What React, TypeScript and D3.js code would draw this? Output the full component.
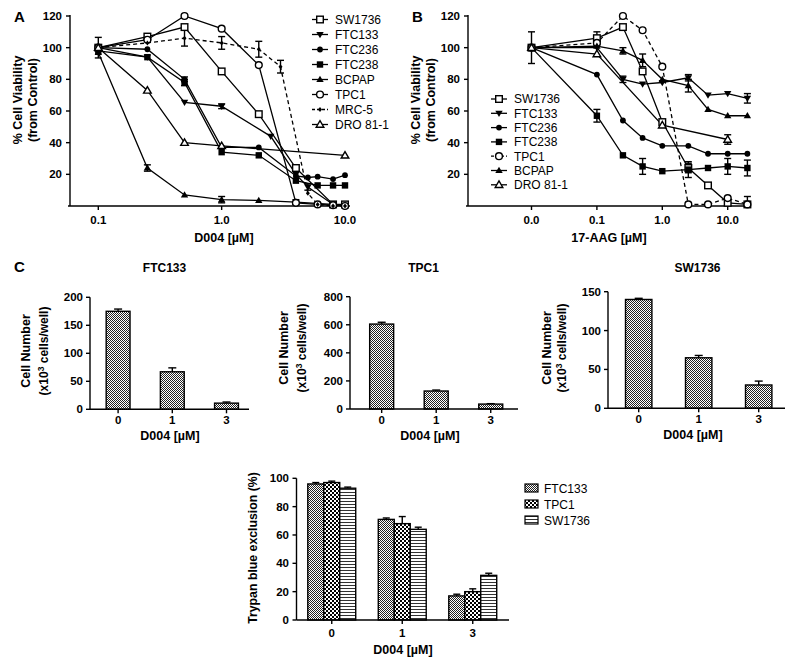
import * as d3 from 'd3'

type Pt = [number, number, number?]

const FONT = '"Liberation Sans", Arial, sans-serif'

// ---- Panel A: D004 dose response, [dose µM, % viability, sem]
const A_SW1736: Pt[] = [[0.1, 100, 6.5], [0.25, 107], [0.5, 113], [1, 85], [2, 58], [4, 24], [8, 1], [10, 1]]
const A_FTC133: Pt[] = [[0.1, 100], [0.25, 94], [0.5, 65.5], [1, 63, 1.5], [2.5, 44], [4, 20], [5, 12, 2], [8, 1], [10, 0]]
const A_FTC236: Pt[] = [[0.1, 100], [0.25, 99], [0.5, 80, 1.5], [1, 37], [2, 37], [4, 19], [5, 18], [6, 18.5], [8, 17], [10, 19.5]]
const A_FTC238: Pt[] = [[0.1, 98], [0.25, 94], [0.5, 78, 2], [1, 34], [2, 32], [4, 16], [6, 13], [8, 13], [10, 13]]
const A_BCPAP: Pt[] = [[0.1, 97], [0.25, 24, 2], [0.5, 7], [1, 4, 2], [2, 3.5], [4, 2.5, 1.5], [10, 0.5]]
const A_TPC1: Pt[] = [[0.1, 100], [0.25, 105], [0.5, 120], [1, 112], [2, 89], [4, 2], [6, 1], [8, 0.5], [10, 0]]
const A_MRC5: Pt[] = [[0.1, 100], [0.25, 103], [0.5, 106, 5], [1, 103, 4], [2, 99, 5], [3, 88, 4], [5, 8], [6, 1], [8, 0], [10, 0]]
const A_DRO: Pt[] = [[0.1, 100], [0.25, 73], [0.5, 40], [1, 38], [10, 32]]

// ---- Panel B: 17-AAG dose response (0.0 drawn at 0.01)
const B_SW1736: Pt[] = [[0.01, 100, 10], [0.1, 106, 4], [0.25, 113], [0.5, 85], [1, 53], [2.5, 24, 3], [5, 13], [10, 2], [20, 1]]
const B_FTC133: Pt[] = [[0.01, 100], [0.1, 100], [0.25, 80, 2], [0.5, 77], [1, 78], [2.5, 81, 2], [5, 70], [10, 71], [20, 68, 3]]
const B_FTC236: Pt[] = [[0.01, 100], [0.1, 83], [0.25, 54], [0.5, 43], [1, 38], [2.5, 38], [5, 33], [10, 33], [20, 33]]
const B_FTC238: Pt[] = [[0.01, 100], [0.1, 57, 4], [0.25, 32], [0.5, 25, 5], [1, 22], [2.5, 23, 5], [5, 24], [10, 25, 5], [20, 24, 5]]
const B_TPC1: Pt[] = [[0.01, 100], [0.1, 103], [0.25, 120], [0.5, 111], [1, 88], [2.5, 1], [5, 1], [10, 5], [20, 1, 5]]
const B_BCPAP: Pt[] = [[0.01, 100], [0.1, 101], [0.25, 98, 2], [0.5, 92, 4], [1, 80], [2.5, 76, 4], [5, 61], [10, 57], [20, 57]]
const B_DRO: Pt[] = [[0.01, 100], [0.1, 96], [1, 51], [10, 42, 3]]

const VIAB_TICKS = [20, 40, 60, 80, 100, 120]
const A_XTICKS = [0.1, 1, 10]
const A_XLABELS = ['0.1', '1.0', '10.0']
const B_XTICKS = [0.01, 0.1, 1, 10]
const B_XLABELS = ['0.0', '0.1', '1.0', '10.0']

// ---- Panel C: cell counts (x10^3 cells/well)
const C_DOSES = ['0', '1', '3']
const C_FTC133 = [175, 67, 11]
const C_FTC133_ERR = [4, 7, 2]
const C_TPC1 = [605, 128, 35]
const C_TPC1_ERR = [13, 7, 3]
const C_SW1736 = [140, 65, 30]
const C_SW1736_ERR = [1.5, 3, 5]

// ---- Panel D: trypan blue exclusion (%)
const D_LINES = ['FTC133', 'TPC1', 'SW1736']
const D_FTC133 = [96, 71, 17]
const D_TPC1 = [97, 68, 20]
const D_SW1736 = [93, 64, 31.5]
const D_ERR = [[1, 1, 1.2], [1, 5, 2], [0.8, 1.5, 1.5]]

type Series = { name: string; marker: string; dash: boolean; pts: Pt[] }

const A_SERIES: Series[] = [
  { name: 'SW1736', marker: 'sqOpen', dash: false, pts: A_SW1736 },
  { name: 'FTC133', marker: 'triDown', dash: false, pts: A_FTC133 },
  { name: 'FTC236', marker: 'circFill', dash: false, pts: A_FTC236 },
  { name: 'FTC238', marker: 'sqFill', dash: false, pts: A_FTC238 },
  { name: 'BCPAP', marker: 'triUp', dash: false, pts: A_BCPAP },
  { name: 'TPC1', marker: 'circOpen', dash: false, pts: A_TPC1 },
  { name: 'MRC-5', marker: 'dot', dash: true, pts: A_MRC5 },
  { name: 'DRO 81-1', marker: 'triOpen', dash: false, pts: A_DRO },
]

const B_SERIES: Series[] = [
  { name: 'SW1736', marker: 'sqOpen', dash: false, pts: B_SW1736 },
  { name: 'FTC133', marker: 'triDown', dash: false, pts: B_FTC133 },
  { name: 'FTC236', marker: 'circFill', dash: false, pts: B_FTC236 },
  { name: 'FTC238', marker: 'sqFill', dash: false, pts: B_FTC238 },
  { name: 'TPC1', marker: 'circOpen', dash: true, pts: B_TPC1 },
  { name: 'BCPAP', marker: 'triUp', dash: false, pts: B_BCPAP },
  { name: 'DRO 81-1', marker: 'triOpen', dash: false, pts: B_DRO },
]

function Marker({ kind, x, y }: { kind: string; x: number; y: number }) {
  const sw = 1.4
  switch (kind) {
    case 'sqOpen':
      return <rect x={x - 3.3} y={y - 3.3} width={6.6} height={6.6} fill="#fff" stroke="#000" strokeWidth={sw} />
    case 'sqFill':
      return <rect x={x - 3.2} y={y - 3.2} width={6.4} height={6.4} fill="#000" />
    case 'circOpen':
      return <circle cx={x} cy={y} r={3.4} fill="#fff" stroke="#000" strokeWidth={sw} />
    case 'circFill':
      return <circle cx={x} cy={y} r={2.9} fill="#000" />
    case 'triDown':
      return <path d={`M${x - 3.7},${y - 2.6}L${x + 3.7},${y - 2.6}L${x},${y + 3.7}Z`} fill="#000" />
    case 'triUp':
      return <path d={`M${x - 3.7},${y + 2.6}L${x + 3.7},${y + 2.6}L${x},${y - 3.7}Z`} fill="#000" />
    case 'triOpen':
      return <path d={`M${x - 3.8},${y + 2.7}L${x + 3.8},${y + 2.7}L${x},${y - 3.8}Z`} fill="#fff" stroke="#000" strokeWidth={sw} />
    default:
      return <path d={`M${x},${y - 2.5}L${x + 2},${y}L${x},${y + 2.5}L${x - 2},${y}Z`} fill="#000" />
  }
}

function ErrBar({ x, y0, y1, both = true, cap = 3.5 }: { x: number; y0: number; y1: number; both?: boolean; cap?: number }) {
  return (
    <g stroke="#000" strokeWidth={1.4}>
      <line x1={x} x2={x} y1={y0} y2={y1} />
      <line x1={x - cap} x2={x + cap} y1={y1} y2={y1} />
      {both && <line x1={x - cap} x2={x + cap} y1={y0} y2={y0} />}
    </g>
  )
}

type LineProps = {
  series: Series[]
  x: d3.ScaleLogarithmic<number, number>
  y: d3.ScaleLinear<number, number>
  axisX: number
  axisEnd: number
  xticks: number[]
  xlabels: string[]
  xtitle: string
  letter: string
  letterX: number
  titleX: number
  yTitleX: number
  legX: number
  legY: number
  legStep: number
}

function LinePanel(p: LineProps) {
  const { x, y } = p
  const base = y(0)
  const line = d3.line<Pt>().x(d => x(d[0])).y(d => y(d[1]))
  return (
    <g fontFamily={FONT}>
      <text x={p.letterX} y={22} fontSize={15} fontWeight="bold">{p.letter}</text>
      {/* axes */}
      <line x1={p.axisX} x2={p.axisX} y1={y(120) - 1} y2={base} stroke="#000" strokeWidth={1.4} />
      <line x1={p.axisX - 2} x2={p.axisEnd} y1={base} y2={base} stroke="#000" strokeWidth={1.4} />
      {VIAB_TICKS.map(t => (
        <g key={t}>
          <line x1={p.axisX - 4} x2={p.axisX} y1={y(t)} y2={y(t)} stroke="#000" strokeWidth={1.4} />
          <text x={p.axisX - 8} y={y(t) + 4} fontSize={11.5} fontWeight="bold" textAnchor="end">{t}</text>
        </g>
      ))}
      {p.xticks.map((t, i) => (
        <g key={t}>
          <line x1={x(t)} x2={x(t)} y1={base} y2={base + 4} stroke="#000" strokeWidth={1.4} />
          <text x={x(t)} y={base + 18} fontSize={11.5} fontWeight="bold" textAnchor="middle">{p.xlabels[i]}</text>
        </g>
      ))}
      <text x={p.titleX} y={242} fontSize={12.5} fontWeight="bold" textAnchor="middle">{p.xtitle}</text>
      <text transform={`translate(${p.yTitleX},100) rotate(-90)`} fontSize={12.5} fontWeight="bold" textAnchor="middle">% Cell Viability</text>
      <text transform={`translate(${p.yTitleX + 15},100) rotate(-90)`} fontSize={12.5} fontWeight="bold" textAnchor="middle">(from Control)</text>
      {/* series */}
      {p.series.map(s => (
        <path key={s.name} d={line(s.pts) ?? ''} fill="none" stroke="#000" strokeWidth={1.3}
          strokeDasharray={s.dash ? '4,3' : undefined} />
      ))}
      {p.series.map(s => s.pts.filter(d => d[2]).map((d, i) => (
        <ErrBar key={s.name + i} x={x(d[0])} y0={Math.min(base, y(d[1] - (d[2] as number)))} y1={y(d[1] + (d[2] as number))} />
      )))}
      {p.series.map(s => s.pts.map((d, i) => (
        <Marker key={s.name + 'm' + i} kind={s.marker} x={x(d[0])} y={y(d[1])} />
      )))}
      {/* legend */}
      {p.series.map((s, i) => {
        const ly = p.legY + i * p.legStep
        return (
          <g key={'leg' + s.name}>
            <line x1={p.legX} x2={p.legX + 16} y1={ly} y2={ly} stroke="#000" strokeWidth={1.3}
              strokeDasharray={s.dash ? '3,2' : undefined} />
            <Marker kind={s.marker} x={p.legX + 8} y={ly} />
            <text x={p.legX + 23} y={ly + 4.3} fontSize={12}>{s.name}</text>
          </g>
        )
      })}
    </g>
  )
}

type CountProps = {
  title: string
  titleX: number
  values: number[]
  errs: number[]
  yMax: number
  yStep: number
  yTop: number
  yBottom: number
  axisX: number
  axisEnd: number
  bandStart: number
  bandEnd: number
  labX: number[]
  labY: number
  xTitleX: number
}

function CountPanel(p: CountProps) {
  const y = d3.scaleLinear().domain([0, p.yMax]).range([p.yBottom, p.yTop])
  const x = d3.scaleBand<string>().domain(C_DOSES).range([p.bandStart, p.bandEnd]).paddingInner(0.56).paddingOuter(0.28)
  const ticks = d3.range(0, p.yMax + 1, p.yStep)
  return (
    <g fontFamily={FONT}>
      <text x={p.titleX} y={272} fontSize={12} fontWeight="bold" textAnchor="middle">{p.title}</text>
      {p.values.map((v, i) => (
        <g key={i}>
          <ErrBar x={x(C_DOSES[i])! + x.bandwidth() / 2} y0={y(v)} y1={y(v + p.errs[i])} both={false} cap={4} />
          <rect x={x(C_DOSES[i])} y={y(v)} width={x.bandwidth()} height={y(0) - y(v)} fill="url(#patFine)" stroke="#000" strokeWidth={1.4} />
        </g>
      ))}
      <line x1={p.axisX} x2={p.axisX} y1={p.yTop} y2={p.yBottom} stroke="#000" strokeWidth={1.4} />
      <line x1={p.axisX} x2={p.axisEnd} y1={p.yBottom} y2={p.yBottom} stroke="#000" strokeWidth={1.4} />
      {ticks.map(t => (
        <g key={t}>
          <line x1={p.axisX - 4} x2={p.axisX} y1={y(t)} y2={y(t)} stroke="#000" strokeWidth={1.4} />
          <text x={p.axisX - 7} y={y(t) + 4} fontSize={11.5} fontWeight="bold" textAnchor="end">{t}</text>
        </g>
      ))}
      {C_DOSES.map(d => (
        <g key={d}>
          <line x1={x(d)! + x.bandwidth() / 2} x2={x(d)! + x.bandwidth() / 2} y1={p.yBottom} y2={p.yBottom + 4} stroke="#000" strokeWidth={1.4} />
          <text x={x(d)! + x.bandwidth() / 2} y={p.yBottom + 15} fontSize={11.5} fontWeight="bold" textAnchor="middle">{d}</text>
        </g>
      ))}
      <text x={p.xTitleX} y={p.yBottom + 31} fontSize={12.5} fontWeight="bold" textAnchor="middle">D004 [µM]</text>
      <text transform={`translate(${p.labX[0]},${p.labY}) rotate(-90)`} fontSize={12.5} fontWeight="bold" textAnchor="middle">Cell Number</text>
      <text transform={`translate(${p.labX[1]},${p.labY}) rotate(-90)`} fontSize={12} fontWeight="bold" textAnchor="middle">
        (x10<tspan dy={-4} fontSize={8.5}>3</tspan><tspan dy={4}> cells/well)</tspan>
      </text>
    </g>
  )
}

function TrypanPanel() {
  const y = d3.scaleLinear().domain([0, 100]).range([620, 478.3])
  const x0 = d3.scaleBand<string>().domain(C_DOSES).range([296.5, 508]).paddingInner(0.32).paddingOuter(0.16)
  const x1 = d3.scaleBand<string>().domain(D_LINES).range([0, x0.bandwidth()])
  const vals = [D_FTC133, D_TPC1, D_SW1736]
  const pats = ['url(#patFine)', 'url(#patCheck)', 'url(#patStripe)']
  return (
    <g fontFamily={FONT}>
      {C_DOSES.map((d, gi) => D_LINES.map((ln, si) => {
        const v = vals[si][gi]
        const bx = x0(d)! + x1(ln)!
        return (
          <g key={d + ln}>
            <ErrBar x={bx + x1.bandwidth() / 2} y0={y(v)} y1={y(v + D_ERR[si][gi])} both={false} cap={3.5} />
            <rect x={bx} y={y(v)} width={x1.bandwidth()} height={y(0) - y(v)} fill={pats[si]} stroke="#000" strokeWidth={1.4} />
          </g>
        )
      }))}
      <line x1={296.5} x2={296.5} y1={478.3} y2={620} stroke="#000" strokeWidth={1.4} />
      <line x1={296.5} x2={509} y1={620} y2={620} stroke="#000" strokeWidth={1.4} />
      {d3.range(0, 101, 20).map(t => (
        <g key={t}>
          <line x1={292.5} x2={296.5} y1={y(t)} y2={y(t)} stroke="#000" strokeWidth={1.4} />
          <text x={289} y={y(t) + 4} fontSize={11.5} fontWeight="bold" textAnchor="end">{t}</text>
        </g>
      ))}
      {C_DOSES.map(d => (
        <g key={d}>
          <line x1={x0(d)! + x0.bandwidth() / 2} x2={x0(d)! + x0.bandwidth() / 2} y1={620} y2={624} stroke="#000" strokeWidth={1.4} />
          <text x={x0(d)! + x0.bandwidth() / 2} y={637} fontSize={11.5} fontWeight="bold" textAnchor="middle">{d}</text>
        </g>
      ))}
      <text x={403} y={654} fontSize={12.5} fontWeight="bold" textAnchor="middle">D004 [µM]</text>
      <text transform="translate(257,548) rotate(-90)" fontSize={12.3} fontWeight="bold" textAnchor="middle">Trypan blue exclusion (%)</text>
      {D_LINES.map((ln, i) => (
        <g key={'dl' + ln}>
          <rect x={525} y={484 + i * 16} width={13} height={8} fill={pats[i]} stroke="#000" strokeWidth={1.2} />
          <text x={544} y={492.5 + i * 16} fontSize={12}>{ln}</text>
        </g>
      ))}
    </g>
  )
}

export default function App() {
  const xA = d3.scaleLog().domain([0.1, 10]).range([98.3, 345])
  const yV = d3.scaleLinear().domain([0, 120]).range([206, 16])
  const xB = d3.scaleLog().domain([0.01, 10]).range([531.5, 727.7])
  return (
    <svg width={800} height={665} style={{ position: 'absolute', left: 0, top: 0, background: '#fff' }}>
      <defs>
        <pattern id="patFine" patternUnits="userSpaceOnUse" width={2} height={2}>
          <rect width={2} height={2} fill="#fff" />
          <rect width={1} height={1} fill="#222" />
          <rect x={1} y={1} width={1} height={1} fill="#222" />
        </pattern>
        <pattern id="patCheck" patternUnits="userSpaceOnUse" width={4} height={4}>
          <rect width={4} height={4} fill="#fff" />
          <rect width={2} height={2} fill="#000" />
          <rect x={2} y={2} width={2} height={2} fill="#000" />
        </pattern>
        <pattern id="patStripe" patternUnits="userSpaceOnUse" width={4} height={3}>
          <rect width={4} height={3} fill="#fff" />
          <rect width={4} height={1} fill="#333" />
        </pattern>
      </defs>
      <LinePanel series={A_SERIES} x={xA} y={yV} axisX={70} axisEnd={350} xticks={A_XTICKS} xlabels={A_XLABELS}
        xtitle="D004 [µM]" letter="A" letterX={14} titleX={224} yTitleX={22} legX={312} legY={19.5} legStep={15} />
      <LinePanel series={B_SERIES} x={xB} y={yV} axisX={468} axisEnd={750} xticks={B_XTICKS} xlabels={B_XLABELS}
        xtitle="17-AAG [µM]" letter="B" letterX={412} titleX={609} yTitleX={420} legX={491} legY={99} legStep={14.3} />
      <text x={14} y={272} fontFamily={FONT} fontSize={15} fontWeight="bold">C</text>
      <CountPanel title="FTC133" titleX={164.5} values={C_FTC133} errs={C_FTC133_ERR} yMax={200} yStep={50}
        yTop={297.3} yBottom={409.3} axisX={90} axisEnd={249} bandStart={91} bandEnd={253.6}
        labX={[30, 48]} labY={351} xTitleX={170} />
      <CountPanel title="TPC1" titleX={423.5} values={C_TPC1} errs={C_TPC1_ERR} yMax={800} yStep={200}
        yTop={296.7} yBottom={409} axisX={350} axisEnd={518} bandStart={354.4} bandEnd={518}
        labX={[288, 306]} labY={348} xTitleX={430} />
      <CountPanel title="SW1736" titleX={697.5} values={C_SW1736} errs={C_SW1736_ERR} yMax={150} yStep={50}
        yTop={291.7} yBottom={408.3} axisX={608} axisEnd={785} bandStart={608.7} bandEnd={788.7}
        labX={[551, 566]} labY={348} xTitleX={693} />
      <TrypanPanel />
    </svg>
  )
}
